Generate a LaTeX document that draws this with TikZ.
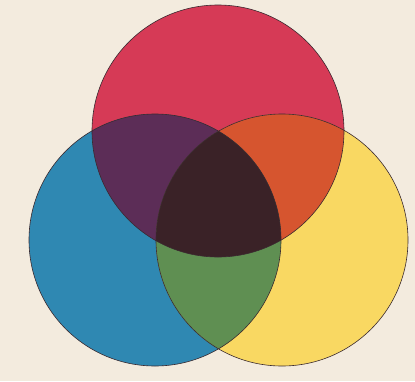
\documentclass[tikz,border=0pt]{standalone}
\definecolor{bg}{HTML}{F3EBDE}
\definecolor{cred}{HTML}{D63A56}
\definecolor{cblue}{HTML}{2F88B2}
\definecolor{cyel}{HTML}{F9D862}
\definecolor{cpurp}{HTML}{5C2D57}
\definecolor{corange}{HTML}{D6552F}
\definecolor{cgreen}{HTML}{5F8F52}
\definecolor{cdark}{HTML}{3A2227}
\definecolor{edge}{HTML}{3A2A30}
\begin{document}
\begin{tikzpicture}[x=1pt,y=-1pt,
  rim/.style={draw=edge,line width=0.6pt}]
\fill[bg] (0,0) rectangle (415,381);
\useasboundingbox (0,0) rectangle (415,381);
\coordinate (R) at (218,131);
\coordinate (B) at (155,240);
\coordinate (Y) at (282,240);
\def\rr{126}
\fill[cred] (R) circle (\rr);
\fill[cblue] (B) circle (\rr);
\fill[cyel] (Y) circle (\rr);
\begin{scope}
  \clip (R) circle (\rr);
  \fill[cpurp] (B) circle (\rr);
  \fill[corange] (Y) circle (\rr);
\end{scope}
\begin{scope}
  \clip (B) circle (\rr);
  \fill[cgreen] (Y) circle (\rr);
\end{scope}
\begin{scope}
  \clip (R) circle (\rr);
  \clip (B) circle (\rr);
  \fill[cdark] (Y) circle (\rr);
\end{scope}
\draw[rim] (R) circle (\rr);
\draw[rim] (B) circle (\rr);
\draw[rim] (Y) circle (\rr);
\end{tikzpicture}
\end{document}
